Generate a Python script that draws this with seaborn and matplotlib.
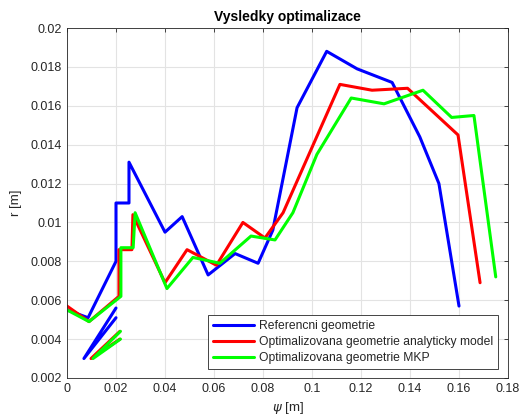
import numpy as np
import pandas as pd
import matplotlib
matplotlib.use("Agg")
import matplotlib.pyplot as plt
import seaborn as sns
from matplotlib.ticker import FuncFormatter

sns.set_theme(style="white")
plt.rcParams["font.family"] = ["Liberation Sans", "DejaVu Sans"]

series_names = [
    "Referencni geometrie",
    "Optimalizovana geometrie analyticky model",
    "Optimalizovana geometrie MKP",
]
series_colors = ["#0000ff", "#ff0000", "#00ff00"]

# Referencni geometrie - main profile
ref_psi = [0.0, 0.0086, 0.0200, 0.0200, 0.0253, 0.0253, 0.0400, 0.0470, 0.0576,
           0.0686, 0.0780, 0.0840, 0.0939, 0.1060, 0.1184, 0.1327, 0.1440, 0.1518, 0.1600]
ref_r = [0.0055, 0.0051, 0.0080, 0.0110, 0.0110, 0.0131, 0.0095, 0.0103, 0.0073,
         0.0084, 0.0079, 0.0096, 0.0159, 0.0188, 0.0179, 0.0172, 0.0144, 0.0120, 0.0057]
# Referencni geometrie - short inner segment
ref_psi_b = [0.0200, 0.0069, 0.0200]
ref_r_b = [0.0056, 0.0030, 0.0051]

# Analyticky model - main profile
ana_psi = [0.0, 0.0090, 0.0212, 0.0212, 0.0265, 0.0269, 0.0400, 0.0490, 0.0610,
           0.0718, 0.0808, 0.0882, 0.1114, 0.1245, 0.1390, 0.1596, 0.1686]
ana_r = [0.0057, 0.0049, 0.0062, 0.0086, 0.0086, 0.0104, 0.0069, 0.0086, 0.0078,
         0.0100, 0.0092, 0.0105, 0.0171, 0.0168, 0.0169, 0.0145, 0.0069]
ana_psi_b = [0.0216, 0.0098, 0.0216]
ana_r_b = [0.0044, 0.0030, 0.0040]

# MKP - main profile
mkp_psi = [0.0, 0.0090, 0.0220, 0.0220, 0.0270, 0.0278, 0.0408, 0.0514, 0.0624,
           0.0751, 0.0849, 0.0922, 0.1020, 0.1160, 0.1294, 0.1453, 0.1570, 0.1661, 0.1750]
mkp_r = [0.0055, 0.0049, 0.0062, 0.0087, 0.0087, 0.0105, 0.0066, 0.0082, 0.0079,
         0.0093, 0.0091, 0.0105, 0.0135, 0.0164, 0.0161, 0.0168, 0.0154, 0.0155, 0.0072]
mkp_psi_b = [0.0218, 0.0106, 0.0218]
mkp_r_b = [0.0044, 0.0030, 0.0040]

x_ticks = [0, 0.02, 0.04, 0.06, 0.08, 0.1, 0.12, 0.14, 0.16, 0.18]
y_ticks = [0.002, 0.004, 0.006, 0.008, 0.01, 0.012, 0.014, 0.016, 0.018, 0.02]

parts = [
    (series_names[0], "a", ref_psi, ref_r), (series_names[0], "b", ref_psi_b, ref_r_b),
    (series_names[1], "a", ana_psi, ana_r), (series_names[1], "b", ana_psi_b, ana_r_b),
    (series_names[2], "a", mkp_psi, mkp_r), (series_names[2], "b", mkp_psi_b, mkp_r_b),
]
frames = []
for name, seg, xs, ys in parts:
    frames.append(pd.DataFrame({"psi": xs, "r": ys, "series": name,
                                "seg": name + seg, "order": range(len(xs))}))
df = pd.concat(frames, ignore_index=True)

fig = plt.figure(figsize=(5.25, 4.2), dpi=100)
ax = fig.add_axes([67 / 525, 1 - 378 / 420, 441 / 525, 350 / 420])

sns.lineplot(data=df, x="psi", y="r", hue="series", units="seg", estimator=None,
             sort=False, hue_order=series_names, palette=series_colors,
             linewidth=2.2, ax=ax, legend=True)

ax.set_xlim(0, 0.18)
ax.set_ylim(0.002, 0.02)
ax.set_xticks(x_ticks)
ax.set_yticks(y_ticks)
fmt = FuncFormatter(lambda v, p: "0" if v == 0 else ("%g" % round(v, 4)))
ax.xaxis.set_major_formatter(fmt)
ax.yaxis.set_major_formatter(fmt)
ax.grid(True, color="#e3e3e3", linewidth=0.8)
ax.tick_params(direction="in", length=3, width=0.6, colors="#262626",
               labelsize=9, top=True, right=True, labeltop=False, labelright=False)
for sp in ax.spines.values():
    sp.set_color("#262626")
    sp.set_linewidth(0.6)

ax.set_xlabel(r"$\psi$ [m]", fontsize=9.5, color="#262626", labelpad=4)
ax.set_ylabel("r [m]", fontsize=9.5, color="#262626", labelpad=6)
ax.set_title("Vysledky optimalizace", fontsize=10, fontweight="bold", color="black", pad=5)

handles, labels = ax.get_legend_handles_labels()
leg = ax.legend(handles, labels, loc="lower right", bbox_to_anchor=(0.977, 0.025),
                borderaxespad=0, fontsize=8.75, handlelength=3.4, handletextpad=0.4,
                labelspacing=0.35, borderpad=0.4, frameon=True, fancybox=False,
                framealpha=1, edgecolor="#262626")
leg.get_frame().set_linewidth(0.6)
for line in leg.get_lines():
    line.set_linewidth(2.2)

fig.savefig("out.png", dpi=100)
